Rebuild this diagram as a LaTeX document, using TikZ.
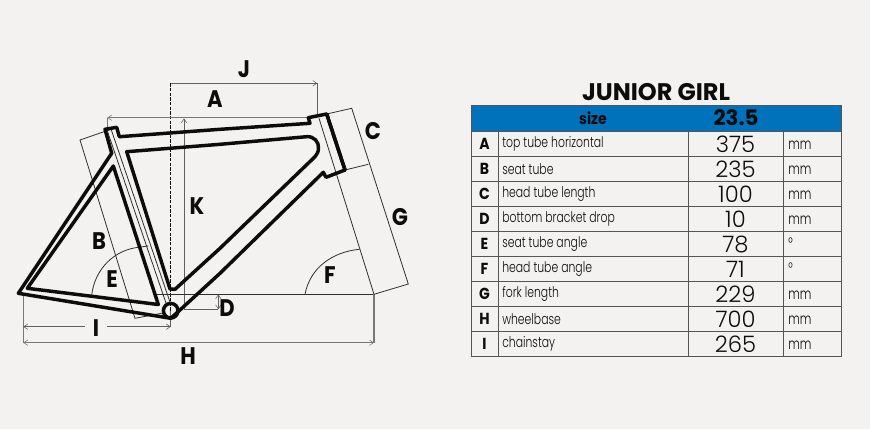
\documentclass[tikz,border=0pt]{standalone}
\usepackage{fontspec}
\usetikzlibrary{arrows.meta}
\setmainfont{Poppins}
\newfontfamily\tblfont[FakeStretch=0.74]{Poppins Light}
\newfontfamily\lblfont[FakeStretch=0.88]{Poppins}
\newfontfamily\valfont{Poppins Light}
\definecolor{bgc}{HTML}{F3F2F0}
\definecolor{hdr}{HTML}{0072BC}
\definecolor{ink}{HTML}{0C0C0C}
\definecolor{dimg}{HTML}{777777}
\definecolor{gridc}{HTML}{555555}
\tikzset{
  frameline/.style={draw=ink,line width=2.6pt,line join=round,line cap=round},
  thinline/.style={draw=ink!85,line width=0.6pt},
  dimthin/.style={draw=dimg!80!black,line width=0.7pt},
  dimthick/.style={draw=dimg,line width=1.1pt},
  tip/.style={-{Straight Barb[length=3pt,width=4pt,line width=0.4pt]}},
  biglabel/.style={font=\fontsize{18}{18}\lblfont\bfseries,text=ink,inner sep=0pt},
  headcell/.style={font=\fontsize{12}{12}\lblfont\bfseries,text=ink,inner sep=0pt},
  lettercell/.style={font=\fontsize{12}{12}\lblfont\bfseries,text=ink,inner sep=0pt},
  namecell/.style={font=\fontsize{11}{12}\tblfont,text=ink,inner sep=0pt,anchor=west},
  valcell/.style={font=\fontsize{17}{18}\valfont,text=ink,inner sep=0pt},
  unitcell/.style={font=\fontsize{11.5}{12}\tblfont,text=ink,inner sep=0pt,anchor=west},
}
\begin{document}
\begin{tikzpicture}[x=0.75pt,y=-0.75pt]
\fill[bgc] (0,0) rectangle (870,429);
\useasboundingbox (0,0) rectangle (870,429);

% named points of the dimension lines
\coordinate (BB) at (170.7,310.7);
\coordinate (Jl) at (170.7,83.3);
\coordinate (Jr) at (317.3,83.3);
\coordinate (Jb) at (317.3,115);
\coordinate (Al) at (107.3,117.7);
\coordinate (Ar) at (316.7,117.7);
\coordinate (Ab) at (107.3,130);
\coordinate (Kt) at (184,118.3);
\coordinate (Kb) at (184,309.3);
\coordinate (Dr) at (218.3,309.3);
\coordinate (Dt) at (218.3,294.3);
\coordinate (Hz) at (374,294.3);
\coordinate (Hzl) at (156.7,294.3);
\coordinate (Hl) at (23.3,342.7);
\coordinate (Hr) at (374,342.7);
\coordinate (Ht) at (23.3,293.5);
\coordinate (Il) at (23.3,326.7);
\coordinate (Ir) at (170.7,326.7);
\coordinate (Ia) at (85,326.7);
\coordinate (Ib) at (107,326.7);
\coordinate (Gt) at (351.7,108.3);
\coordinate (Gb) at (408.3,284);
\coordinate (Ct) at (326.7,114);
\coordinate (Cb) at (345,170);
\coordinate (Cm) at (368.3,164.3);
\coordinate (Ft) at (319,118.3);
\coordinate (Bt) at (80,140);
\coordinate (Btr) at (116.7,127.3);
\coordinate (Bb) at (135,318.3);
\coordinate (Bbr) at (163,313);

% dimension lines
\draw[dimthin,dashed,draw=ink,dash pattern=on 2.5pt off 1pt] (Jl) -- (BB);
\draw[dimthin,tip] (Jl) -- (Jr);
\draw[dimthin] (Jr) -- (Jb);
\draw[dimthick,tip] (Ar) -- (Al);
\draw[dimthick] (Al) -- (Ab);
\draw[dimthin,tip] (Kb) -- (Kt);
\draw[dimthin] (Kb) -- (Dr);
\draw[dimthin,{Straight Barb[length=3pt,width=4pt,line width=0.4pt]}-{Straight Barb[length=3pt,width=4pt,line width=0.4pt]}] (Dr) -- (Dt);
\draw[thinline,line width=0.8pt] (Hzl) -- (Hz);
\draw[dimthick] (Hz) -- (Hr);
\draw[dimthick] (Ht) -- (Hl);
\draw[dimthick,{Straight Barb[length=3pt,width=4pt,line width=0.4pt]}-{Straight Barb[length=3pt,width=4pt,line width=0.4pt]}] (Hl) -- (Hr);
\draw[dimthin,{Straight Barb[length=3pt,width=4pt,line width=0.4pt]}-] (Il) -- (Ia);
\draw[dimthin,-{Straight Barb[length=3pt,width=4pt,line width=0.4pt]}] (Ib) -- (Ir);
\draw[dimthin] (BB) -- (Ir);
\draw[thinline] (Hz) -- (Gb) -- (Gt) -- (Ct);
\draw[thinline] (Cb) -- (Cm);
\draw[thinline] (Hz) -- (Ft);
\draw[thinline] (Btr) -- (Bt) -- (Bb) -- (Bbr);
\draw[thinline] (107,130) -- (167,306);
\draw[thinline] (111,129) -- (171,305);

% angle arcs
\draw[thinline] (91.7,295) .. controls (95,268) and (115,250) .. (138.3,247.3) -- (148.3,246);
\draw[thinline] (305,294.3) .. controls (310,268) and (332,252) .. (359.3,249.3);

% frame
\draw[frameline] (105,129.3) -- (116.7,127.3) -- (119.3,136.7) -- (220,129.3) -- (310,123.3) -- (308.3,117.7) -- (326.7,114) -- (345,170) -- (326,177.3) -- (323.3,172.3) -- (220,273.3) -- (180,310) -- (170.7,318.3) -- (18.3,293.3) -- (111.7,153.3) -- cycle;
\draw[frameline] (326.7,114) -- (345,170);
\draw[frameline] (126.7,151.7) -- (220,144.3) -- (306.7,136.7) .. controls (314,136) and (319,142) .. (318.5,148) .. controls (318.5,152) and (317,154) .. (315,156.7) -- (220,248.3) -- (175,289.3) -- (170,289) -- cycle;
\draw[frameline] (113.3,166) -- (158.3,304.5) -- (27.3,288.3) -- cycle;
\draw[draw=ink,line width=2.6pt] (BB) circle[radius=7.3];

% letters on the drawing
\node[biglabel] (lJ) at (244,69) {J};
\node[biglabel] (lA) at (215,99) {A};
\node[biglabel] (lC) at (373,131) {C};
\node[biglabel] (lG) at (400,217) {G};
\node[biglabel] (lK) at (197,206) {K};
\node[biglabel] (lB) at (99,241) {B};
\node[biglabel] (lE) at (112,279) {E};
\node[biglabel] (lF) at (330,275) {F};
\node[biglabel] (lD) at (227,308) {D};
\node[biglabel] (lI) at (96,328) {I};
\node[biglabel] (lH) at (188,356) {H};

% table
\node[font=\fontsize{18}{18}\selectfont\bfseries,text=ink,inner sep=0pt] (title) at (656,92) {JUNIOR GIRL};
\fill[hdr] (471,105) rectangle (841.7,131.7);
\draw[gridc,line width=0.7pt] (471,105) rectangle (841.7,356.7);
\draw[gridc,line width=0.7pt] (471,131.7) -- (841.7,131.7);
\foreach \y in {156.7,181.7,206.7,231.7,256.7,281.7,306.7,331.7}
  \draw[gridc,line width=0.7pt] (471,\y) -- (841.7,\y);
\foreach \x in {498.3,688.3,783.3}
  \draw[gridc,line width=0.7pt] (\x,131.7) -- (\x,356.7);
\node[headcell] (hs) at (593,118) {size};
\node[headcell,font=\fontsize{16}{16}\selectfont\bfseries] (hv) at (736,118) {23.5};
\foreach \i/\l/\n/\v/\u in {
  0/A/top tube horizontal/375/mm,
  1/B/seat tube/235/mm,
  2/C/head tube length/100/mm,
  3/D/bottom bracket drop/10/mm,
  4/E/seat tube angle/78/,
  5/F/head tube angle/71/,
  6/G/fork length/229/mm,
  7/H/wheelbase/700/mm,
  8/I/chainstay/265/mm}{
  \pgfmathsetmacro{\yy}{144.2+25*\i}
  \node[lettercell] (r\i a) at (484.5,\yy) {\l};
  \node[namecell] (r\i b) at (502,\yy) {\n};
  \node[valcell] (r\i c) at (735.5,\yy) {\v};
  \node[unitcell] (r\i d) at (788,\yy+1) {\u};
}
\node[unitcell] (deg1) at (788,243.5) {°};
\node[unitcell] (deg2) at (788,268.5) {°};
\end{tikzpicture}
\end{document}
